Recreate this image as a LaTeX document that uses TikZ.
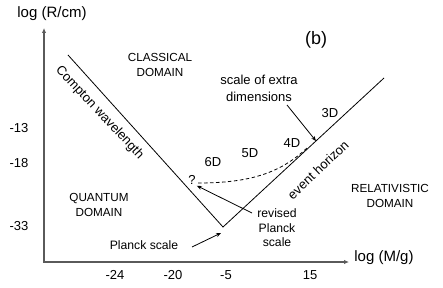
\documentclass[tikz,border=0pt]{standalone}
\usepackage{fontspec}
\setmainfont{Liberation Sans}
\usetikzlibrary{positioning,arrows.meta,calc}
\definecolor{ink}{HTML}{000000}
\definecolor{axisgray}{HTML}{5A5A5A}
\tikzset{
  axis/.style={draw=axisgray,line width=1.2pt,{Latex[length=5pt,width=4.5pt]}-{Latex[length=5pt,width=4.5pt]}},
  bound/.style={draw=ink,line width=0.8pt},
  ar/.style={-{Stealth[length=5pt,width=4pt]},line width=0.8pt,draw=ink},
  txt/.style={font=\fontsize{13}{16}\selectfont,align=center,inner sep=1pt},
  dom/.style={font=\fontsize{11.7}{14.5}\selectfont,align=center,inner sep=1pt},
  ttl/.style={font=\fontsize{15}{18}\selectfont,inner sep=1pt},
  tck/.style={font=\fontsize{13}{15}\selectfont,inner sep=1pt},
}

\begin{document}
\begin{tikzpicture}[x=1pt,y=-1pt]
  \useasboundingbox (0,0) rectangle (443,288);
  % axes
  \coordinate (O) at (44,262);
  \coordinate (ytop) at (44,28);
  \coordinate (xend) at (349,262);
  \draw[axis] (ytop) -- (O) -- (xend);
  \node[ttl] (ylab) at (52,14) {log (R/cm)};
  \node[ttl] (xlab) at (384,258) {log (M/g)};
  \node[font=\fontsize{18}{20}\selectfont] (tag) at (316,40) {(b)};
  % ticks
  \node[tck] (y13) at (19,128) {-13};
  \node[tck] (y18) at (19,163) {-18};
  \node[tck] (y33) at (19,226) {-33};
  \node[tck] (x24) at (115,275) {-24};
  \node[tck] (x20) at (173,275) {-20};
  \node[tck] (x5) at (226,275) {-5};
  \node[tck] (x15) at (310,275) {15};
  % boundaries
  \coordinate (cw) at (68,55);
  \coordinate (pl) at (223,227);
  \coordinate (eh) at (384,78);
  \draw[bound] (cw) -- (pl) -- (eh);
  \node[txt,rotate=-46.8] (cwl) at (99.5,112.5) {Compton wavelength};
  \node[txt,rotate=43.5] (ehl) at (318,170) {event horizon};
  % domains
  \node[dom] (cls) at (160,65) {CLASSICAL\\DOMAIN};
  \node[dom] (qnt) at (99,205) {QUANTUM\\DOMAIN};
  \node[dom] (rel) at (390,196) {RELATIVISTIC\\DOMAIN};
  % extra dimensions
  \node[txt,font=\fontsize{13}{17}\selectfont] (sx) at (259,88) {scale of extra\\dimensions};
  \node[txt] (d3) at (330,113) {3D};
  \node[txt] (d4) at (292,143) {4D};
  \node[txt] (d5) at (250,153) {5D};
  \node[txt] (d6) at (213,162) {6D};
  \node[txt] (q) at (192,180) {?};
  \coordinate (sxT) at (287,105);
  \coordinate (sxH) at (316,141);
  \draw[ar] (sxT) -- (sxH);
  \coordinate (dS) at (198,183);
  \coordinate (dE) at (308,147);
  \draw[bound,dashed,dash pattern=on 3.5pt off 2.5pt] (dS) .. controls (250,183) and (281,173) .. (dE);
  % planck scales
  \node[txt,font=\fontsize{12.2}{14.5}\selectfont] (rps) at (277,228) {revised\\Planck\\scale};
  \node[txt,font=\fontsize{12.2}{14.5}\selectfont] (ps) at (144,245) {Planck scale};
  \coordinate (rpsT) at (252,213);
  \coordinate (psT) at (192,247);
  \coordinate (plH) at (221,233);
  \draw[ar] (rpsT) -- (q.south east);
  \draw[ar] (psT) -- (plH);
\end{tikzpicture}
\end{document}
